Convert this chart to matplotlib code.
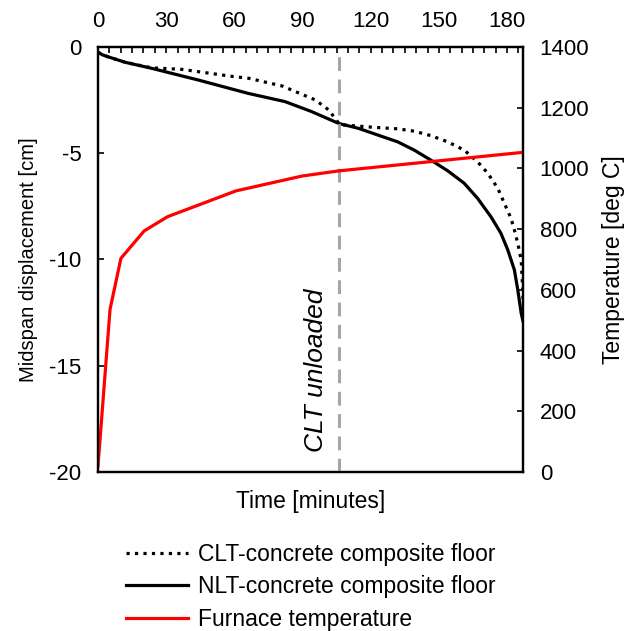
import matplotlib
matplotlib.use("Agg")
import matplotlib.pyplot as plt
from matplotlib.lines import Line2D
from matplotlib.ticker import MultipleLocator

plt.rcParams['font.family'] = ['Liberation Sans', 'DejaVu Sans']
plt.rcParams['axes.unicode_minus'] = False

# midspan displacement, CLT-concrete floor [min], [cm]
clt_time = [0, 2, 4.4, 12, 23.5, 36.8, 44.1, 58.8, 66.2, 80.9, 95.6, 101.5, 106, 108.2, 121.4,
            131.8, 139.1, 146.4, 153.8, 161.1, 167.0, 171.5, 175.9, 178.8, 181.7, 183.2, 184.7,
            186.2, 186.9, 187]
clt_disp = [-0.25, -0.37, -0.46, -0.72, -0.98, -1.05, -1.16, -1.38, -1.47, -1.83, -2.49, -2.96,
            -3.6, -3.67, -3.78, -3.85, -3.96, -4.17, -4.46, -4.85, -5.40, -5.94, -6.65, -7.36,
            -8.06, -8.61, -9.24, -10.02, -11.43, -11.9]

# midspan displacement, NLT-concrete floor
nlt_time = [0, 2, 4.4, 12, 23.5, 44, 66, 82.3, 94, 106, 114.7, 124.4, 131.8, 139.1, 146.4,
            153.8, 161.1, 167.0, 172.9, 177.3, 180.3, 183.2, 184.7, 186.2, 187]
nlt_disp = [-0.25, -0.37, -0.46, -0.72, -1.0, -1.55, -2.18, -2.57, -3.04, -3.6, -3.83, -4.19,
            -4.46, -4.85, -5.32, -5.82, -6.41, -7.12, -7.99, -8.77, -9.55, -10.49, -11.43,
            -12.53, -12.9]

# furnace temperature [deg C]
furnace_time = [0, 5.3, 10.1, 20.3, 30.6, 60.7, 89.8, 106, 187]
furnace_temp = [20, 536, 704, 794, 841, 926, 975, 992, 1053]

unload_time = 106

fig = plt.figure(figsize=(6.29, 6.31), dpi=100)
ax = fig.add_axes([0.1558, 0.252, 0.6757, 0.6735])
ax2 = ax.twinx()

ax.axvline(unload_time, color='#a6a6a6', lw=2.2, ls=(0, (4.5, 2.8)), zorder=3)
ax.plot(clt_time, clt_disp, color='black', lw=2.3, ls=':', zorder=2)
ax.plot(nlt_time, nlt_disp, color='black', lw=2.3, zorder=2)
ax2.plot(furnace_time, furnace_temp, color='#ff0000', lw=2.3)

ax.text(unload_time - 10, -15.2, 'CLT unloaded', rotation=90, style='italic',
        fontsize=19, ha='center', va='center')

ax.set_xlim(0, 187)
ax.set_ylim(-20, 0)
ax2.set_ylim(0, 1400)

ax.xaxis.tick_top()
ax.xaxis.set_label_position('bottom')
ax.xaxis.set_major_locator(MultipleLocator(30))
ax.xaxis.set_minor_locator(MultipleLocator(5))
ax.yaxis.set_major_locator(MultipleLocator(5))
ax2.yaxis.set_major_locator(MultipleLocator(200))

ax.tick_params(axis='x', which='both', direction='in', length=4, width=1.2,
               labelsize=16, pad=11)
ax.tick_params(axis='y', direction='in', length=4, width=1.2, labelsize=16, pad=12)
ax2.tick_params(axis='y', direction='in', length=4, width=1.2, labelsize=16, pad=12)

for a in (ax, ax2):
    for s in a.spines.values():
        s.set_linewidth(1.6)

ax.set_xlabel('Time [minutes]', fontsize=16.5, labelpad=13)
ax.set_ylabel('Midspan displacement [cm]', fontsize=14.5, labelpad=8)
ax2.set_ylabel('Temperature [deg C]', fontsize=16.5, labelpad=9)

handles = [
    Line2D([], [], color='black', lw=2.3, ls=':'),
    Line2D([], [], color='black', lw=2.3),
    Line2D([], [], color='#ff0000', lw=2.3),
]
labels = ['CLT-concrete composite floor', 'NLT-concrete composite floor', 'Furnace temperature']
fig.legend(handles, labels, loc='upper left', bbox_to_anchor=(0.2, 0.139), frameon=False,
           fontsize=16.5, handlelength=2.7, handletextpad=0.45, labelspacing=0.4,
           borderpad=0, borderaxespad=0)

fig.savefig('out.png', dpi=100)
